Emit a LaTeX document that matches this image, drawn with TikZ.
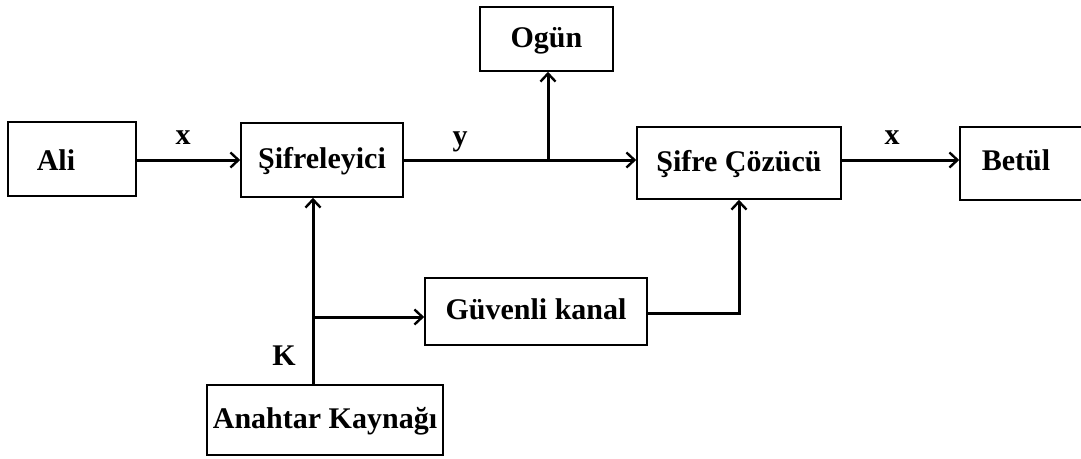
\documentclass[tikz,border=0pt]{standalone}
\usepackage{fontspec}
\setmainfont{Liberation Serif}
\usetikzlibrary{arrows.meta}
\begin{document}
\begin{tikzpicture}[x=1pt,y=-1pt,
  box/.style={draw, line width=1.6pt, rectangle, inner sep=0pt},
  txt/.style={font=\fontsize{30}{36}\selectfont\bfseries, inner sep=0pt, text height=21pt, text depth=5pt},
  arr/.style={line width=3pt, -{Straight Barb[length=8pt,width=15pt,line width=2.4pt]}},
  wire/.style={line width=3pt}]
\useasboundingbox (0,0) rectangle (1081,458);
\clip (0,0) rectangle (1081,458);
% boxes
\node[box, minimum width=128pt, minimum height=74pt] (ali) at (72,159) {};
\node[txt, anchor=base] (alit) at (56,170) {Ali};
\node[box, txt, minimum width=162pt, minimum height=74pt] (sif) at (322,160) {Şifreleyici};
\node[box, txt, minimum width=133pt, minimum height=64pt] (ogun) at (546.5,39) {Ogün};
\node[box, txt, minimum width=204pt, minimum height=72pt] (coz) at (739,163) {Şifre Çözücü};
\node[box, minimum width=140pt, minimum height=73pt] (betul) at (1030,163.5) {};
\node[txt, anchor=base] (betult) at (1016,170) {Betül};
\node[box, txt, minimum width=222pt, minimum height=67pt] (guv) at (536,311.5) {Güvenli kanal};
\node[box, txt, minimum width=236pt, minimum height=70pt] (anah) at (325,420) {Anahtar Kaynağı};
% coordinates
\coordinate (br1) at (548,160);
\coordinate (kb) at (313,317);
\coordinate (gout) at (647,313);
% connectors
\draw[arr] (ali.east |- sif.west) -- (sif.west);
\draw[arr] (sif.east) -- (sif.east -| coz.west);
\draw[arr] (br1) -- (br1 |- ogun.south);
\draw[arr] (coz.east |- sif.east) -- (sif.east -| betul.west);
\draw[arr] (kb |- anah.north) -- (kb |- sif.south);
\draw[arr] (kb) -- (kb -| guv.west);
\draw[arr] (gout) -| (coz.south);
% labels
\node[txt, anchor=base] (lx1) at (183,144) {x};
\node[txt, anchor=base] (ly) at (460,145) {y};
\node[txt, anchor=base] (lx2) at (892,144) {x};
\node[txt, anchor=base] (lk) at (284,365) {K};
\end{tikzpicture}
\end{document}
